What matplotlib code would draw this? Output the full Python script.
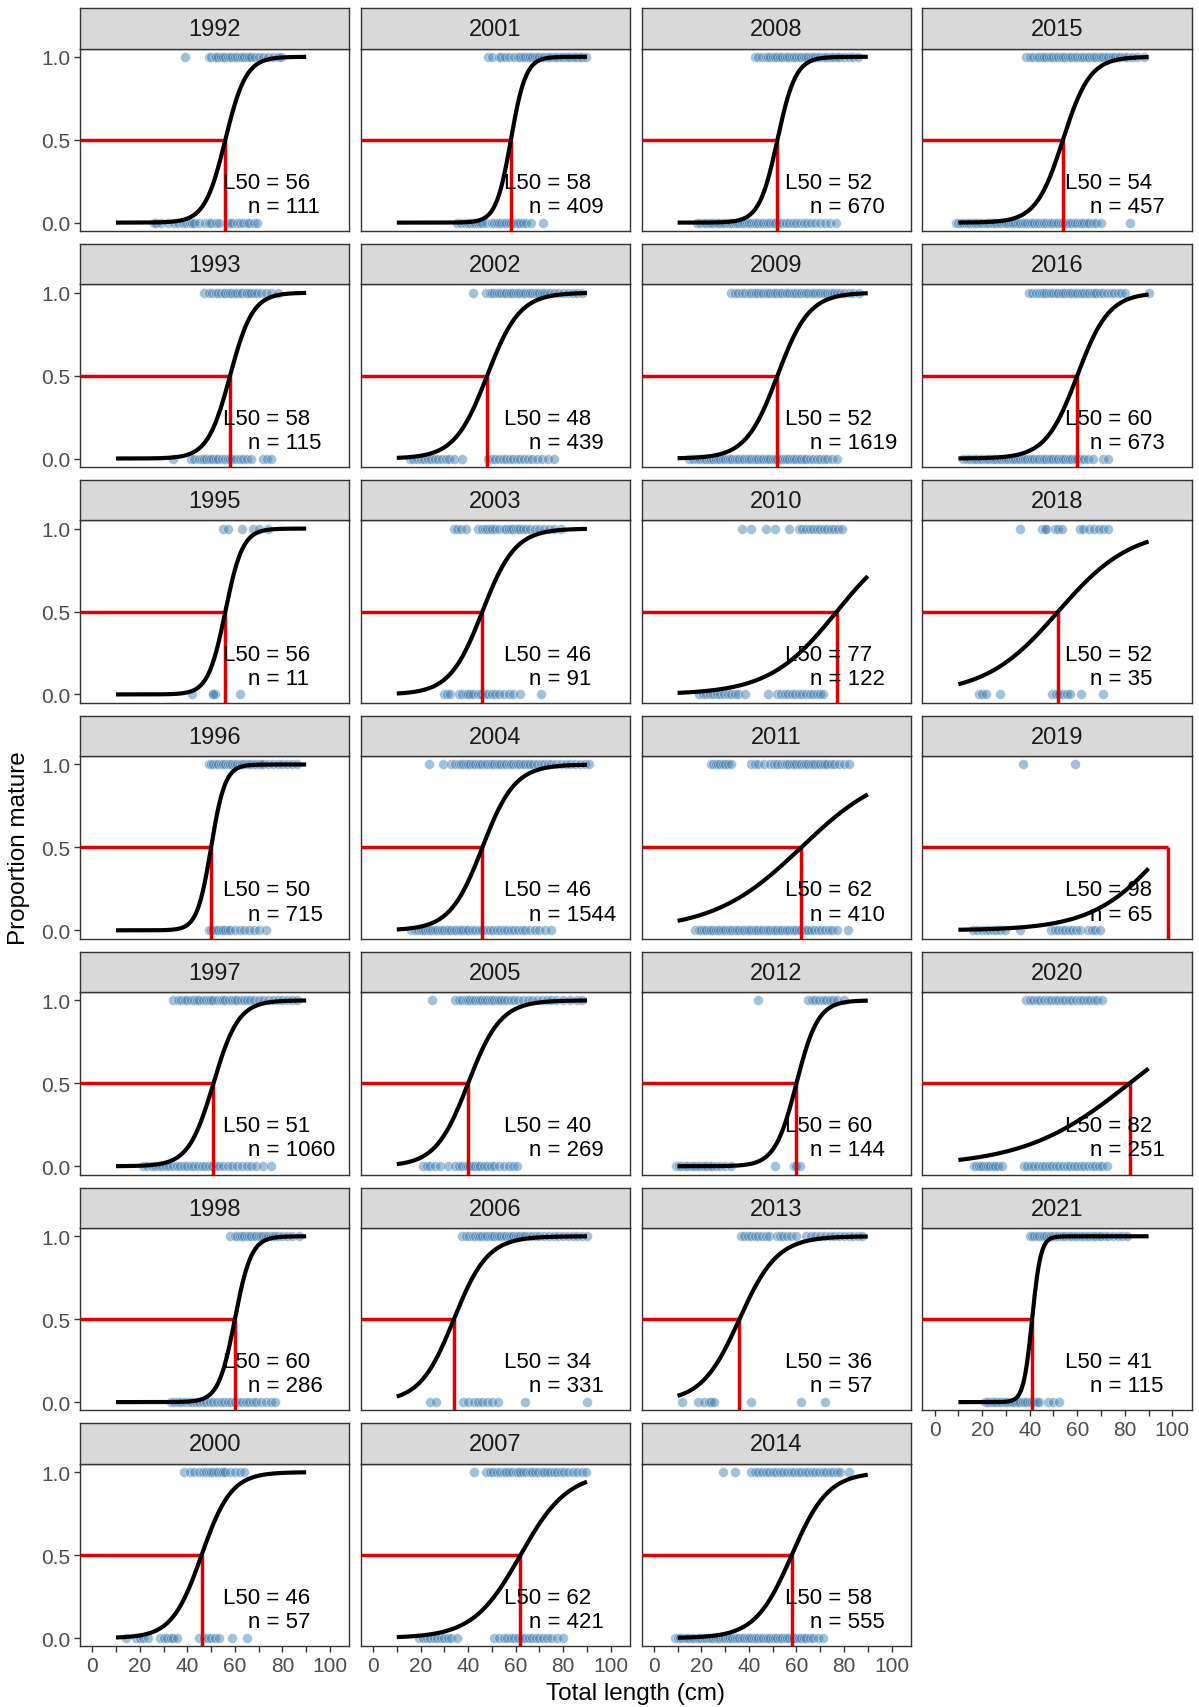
import numpy as np
import matplotlib
matplotlib.use("Agg")
import matplotlib.pyplot as plt

plt.rcParams["font.family"] = ["Liberation Sans", "DejaVu Sans"]

# panel order follows the facet columns (top to bottom, left to right)
years = [1992, 1993, 1995, 1996, 1997, 1998, 2000,
         2001, 2002, 2003, 2004, 2005, 2006, 2007,
         2008, 2009, 2010, 2011, 2012, 2013, 2014,
         2015, 2016, 2018, 2019, 2020, 2021]
l50 = [56, 58, 56, 50, 51, 60, 46,
       58, 48, 46, 46, 40, 34, 62,
       52, 52, 77, 62, 60, 36, 58,
       54, 60, 52, 98, 82, 41]
n_fish = [111, 115, 11, 715, 1060, 286, 57,
          409, 439, 91, 1544, 269, 331, 421,
          670, 1619, 122, 410, 144, 57, 555,
          457, 673, 35, 65, 251, 115]
# logistic slope of the fitted maturity ogive
slope = [0.23, 0.21, 0.275, 0.34, 0.19, 0.29, 0.16,
         0.32, 0.146, 0.145, 0.146, 0.146, 0.14, 0.10,
         0.26, 0.15, 0.07, 0.054, 0.22, 0.125, 0.13,
         0.176, 0.15, 0.065, 0.065, 0.045, 0.55]

# observed lengths of mature (y = 1) and immature (y = 0) fish
mat_1992 = [39, 49, 50, 51.5, 52, 53, 54, 55, 56, 57, 58, 59, 60, 61, 62, 63, 64, 65, 66, 67, 68.5, 70, 72, 74, 76, 78, 79.5]
imm_1992 = [26, 27, 29, 32, 34.5, 36, 38, 39.5, 41, 42, 43, 45, 47.5, 49, 50, 52, 53.5, 57, 58, 59, 61, 62, 63.5, 65, 66, 68, 69.5]
mat_1993 = [47, 49, 50.5, 52, 53, 54, 55.5, 56, 57, 58, 59, 60, 61, 62, 63, 64.5, 65, 66, 67, 68, 69.5, 71, 73, 75, 78]
imm_1993 = [34, 41.5, 43, 45, 46, 47, 48, 49, 50, 51, 52, 53, 54.5, 56, 57, 58, 59, 60.5, 62, 63.5, 65, 67, 72, 73.5, 75]
mat_1995 = [55, 57, 63, 67.5, 70, 74]
imm_1995 = [42, 51, 51.5, 51, 62]
mat_1996 = [49, 50, 51, 52, 53, 54, 55, 56, 57, 58, 59, 60, 61, 62, 63, 64, 65, 66, 67, 68, 69, 70, 71, 72, 74, 76, 78, 80, 82, 84, 86]
imm_1996 = [49, 50, 51, 52, 53, 54, 55, 56, 57, 58, 60, 62, 64, 66, 68, 70, 73]
mat_1997 = [34, 36, 37.5, 39, 40, 41.5, 43, 44, 45, 46.5, 48, 49, 50, 51, 52.5, 54, 55, 56, 57.5, 59, 60, 61, 62.5, 64, 65, 66.5, 68, 70, 72, 74, 76, 78, 80, 82, 84, 86]
imm_1997 = [21.5, 23, 25, 26.5, 28, 29.5, 31, 32.5, 34, 35.5, 37, 38.5, 40, 41.5, 43, 44.5, 46, 47.5, 49, 50.5, 52, 53.5, 55, 57, 59, 61, 63, 65, 67, 69, 72, 75]
mat_1998 = [58, 60, 61, 62, 63, 64, 65, 66, 67, 68, 69, 70, 71, 72, 73, 74, 75, 76, 77, 78, 80, 82, 84, 87]
imm_1998 = [33, 34.5, 36, 37.5, 39, 40.5, 42, 43.5, 45, 46.5, 48, 49.5, 51, 52.5, 54, 55.5, 57, 58.5, 60, 61.5, 63, 64.5, 66, 67.5, 69, 71, 73, 75, 77]
mat_2000 = [38.5, 41, 43, 45, 46.5, 48, 49, 50, 51, 52, 53, 54, 55, 56, 58, 60, 62, 64]
imm_2000 = [14, 18.5, 20, 21.5, 23.5, 28.5, 30, 31.5, 33, 34, 35.5, 45, 47, 48.5, 50, 51.5, 53.5, 59, 65]
mat_2001 = [48.5, 50, 53, 54, 55.5, 57, 59.5, 61, 62, 63, 64, 65, 66, 67, 68, 69, 70, 71, 72, 73, 74, 75, 76, 77, 78, 79, 80, 81, 82, 83, 84, 85, 86, 87, 88, 89.5]
imm_2001 = [35.5, 37, 38.5, 40, 41, 42, 43, 44, 45, 46, 47.5, 50, 51, 52, 53, 54, 55, 56, 57, 58, 59, 60, 61, 62, 63, 64.5, 66.5, 71.5]
mat_2002 = [42, 47.5, 49, 50, 51, 52, 53, 54, 55, 56, 57, 58, 59, 60, 61, 62, 63, 64, 65, 66, 67, 68, 69, 70, 71, 72, 73, 74.5, 76, 78, 80, 82, 84, 86, 88]
imm_2002 = [15.5, 17, 18.5, 20, 21.5, 23, 24.5, 26, 27.5, 29, 30.5, 32, 34, 37.5, 48.5, 50, 51.5, 53, 54.5, 56, 57.5, 59, 60.5, 62, 63.5, 65, 67, 69, 71, 73.5, 76]
mat_2003 = [34, 35.5, 37, 39, 44, 46, 47, 48, 49, 50, 51.5, 53, 55, 56, 57, 58, 59, 60, 61, 62, 63, 64.5, 66, 68, 70, 72, 74, 76, 79]
imm_2003 = [30, 31, 32.5, 36, 37.5, 39, 40, 41, 42, 44, 45.5, 47, 48.5, 50, 51.5, 53, 55, 57, 59, 62, 70.5]
mat_2004 = [23.5, 29.5, 33, 34.5, 36, 37, 38, 39, 40, 41, 42, 43, 44, 45, 46, 47, 48, 49, 50, 51, 52, 53, 54, 55, 56, 57, 58, 59, 60, 61, 62, 63, 64, 65, 66, 67.5, 69, 70.5, 72, 73.5, 75, 77, 79, 81, 83, 85, 87, 89, 91]
imm_2004 = [16, 17.5, 19, 20, 21, 22, 23, 24, 25, 26, 27, 28, 29, 30, 31, 32, 33, 34, 35, 36, 37, 38, 39, 40, 41.5, 43, 44.5, 46, 47.5, 49, 50.5, 52, 53.5, 55, 56.5, 58, 59.5, 61, 62.5, 64, 66, 68, 70, 72.5, 75]
mat_2005 = [25, 34.5, 36, 37.5, 39, 40, 41, 42, 43, 44, 45, 46, 47, 48, 49, 50, 51, 52, 53, 54, 55, 56.5, 58, 59.5, 61, 63, 65, 67, 69, 71, 73, 75, 77, 80, 83, 86, 88]
imm_2005 = [21, 22.5, 24, 26, 28, 31.5, 34.5, 36, 37.5, 39, 40, 41, 42, 43, 44, 45, 46.5, 48, 49.5, 51, 53, 55, 57, 59, 60.5]
mat_2006 = [37.5, 39, 40.5, 42, 43, 44, 45, 46, 47, 48, 49, 50, 51, 52, 53, 54, 55, 56, 57, 58, 59, 60, 61, 62, 63, 64, 65.5, 67, 68.5, 70, 72, 74, 76, 78, 80, 82, 84, 86, 88, 90]
imm_2006 = [24, 26.5, 38, 40, 42.5, 44, 46, 48, 50, 52.5, 64, 90]
mat_2007 = [42.5, 47.5, 49, 50.5, 52, 53.5, 55, 56, 57, 58.5, 60, 61, 62, 63, 64.5, 66, 67, 68, 69.5, 71, 72, 73, 74.5, 76, 77.5, 79, 80.5, 82, 84, 86, 88, 89.5]
imm_2007 = [19.5, 21, 22.5, 24, 25.5, 27, 28.5, 30, 31.5, 33, 35.5, 51, 53, 55, 56.5, 58, 59.5, 61, 62.5, 64, 65.5, 67, 68.5, 70, 71.5, 73, 75, 77.5, 80]
mat_2008 = [42.5, 44, 45.5, 47, 48, 49, 50, 51, 52, 53, 54, 55, 56, 57, 58, 59, 60, 61, 62, 63, 64, 65, 66, 67, 68, 69, 70, 71, 72, 73, 74, 75, 76, 77, 78, 80, 82, 84, 86]
imm_2008 = [18, 19.5, 21, 22, 23, 24, 25, 26, 27, 28, 29, 30, 31, 32, 33, 34, 35, 36, 37, 38, 39, 40, 41, 42, 43, 44, 45, 46, 47, 48, 49, 50, 51, 52.5, 54, 55.5, 57, 58.5, 60, 61.5, 63, 64.5, 66, 68, 70, 72, 74, 76.5]
mat_2009 = [32.5, 34, 35.5, 37, 38.5, 40, 41, 42, 43, 44, 45, 46, 47, 48, 49, 50, 51, 52, 53, 54, 55, 56, 57, 58, 59, 60, 61, 62, 63, 64, 65, 66, 67, 68, 69, 70, 71, 72, 73, 74, 75, 76, 77, 78.5, 80, 82, 84, 86.5]
imm_2009 = [15, 16.5, 18, 19.5, 21, 22, 23, 24, 25, 26, 27, 28, 29, 30, 31, 32, 33, 34, 35, 36, 37, 38, 39, 40, 41, 42, 43, 44, 45, 46, 47, 48, 49, 50, 51, 52, 53, 54, 55, 56, 57, 58, 59, 60, 61, 62, 63, 64, 65.5, 67, 68.5, 70, 71.5, 73, 75, 77]
mat_2010 = [37, 41, 47, 51, 57, 61, 62.5, 64, 65.5, 67, 68.5, 70, 71.5, 73, 74.5, 76, 77.5, 79]
imm_2010 = [19, 20.5, 22, 23.5, 25, 26.5, 28, 29.5, 31, 32.5, 34, 35.5, 38.5, 48, 52, 53.5, 55, 56.5, 58, 59.5, 61, 62.5, 64, 65.5, 67, 68.5, 70, 71]
mat_2011 = [24, 25, 26, 27, 28, 29, 30, 31, 32.5, 41, 42.5, 44, 46.5, 49, 50.5, 52, 53.5, 55, 56, 57, 58, 59, 60, 61, 62, 63, 64, 65, 66, 67, 68, 69, 70, 71, 72, 73, 74.5, 76, 78, 80, 82]
imm_2011 = [17.5, 19, 20, 21, 22, 23, 24, 25, 26, 27, 28, 29, 30, 31, 32, 33, 34, 35, 36, 37, 38, 39, 40, 41, 42, 43, 44, 45, 46, 47, 48, 49, 50, 51, 52, 53, 54, 55, 56, 57, 58, 59, 60, 61, 62, 63, 64, 65, 66, 67.5, 69, 70.5, 72, 73.5, 75, 77, 81.5]
mat_2012 = [44, 65, 66.5, 68, 69.5, 71, 72.5, 74, 75.5, 77, 80]
imm_2012 = [9.5, 10.5, 11.5, 12.5, 13.5, 14.5, 15.5, 16.5, 17.5, 18.5, 19.5, 20.5, 21.5, 22.5, 23.5, 24.5, 26, 28, 30, 32.5, 51, 59, 60, 61.5]
mat_2013 = [36.5, 38, 39.5, 41, 42.5, 44, 45.5, 47, 48.5, 52, 53, 54.5, 56, 57.5, 60, 64, 66, 68, 70, 72, 74, 76, 78, 80, 82, 84, 86, 87.5]
imm_2013 = [12, 18.5, 21, 23, 24, 25.5, 41, 62, 72]
mat_2014 = [29, 34, 41, 42.5, 44, 45.5, 47, 48.5, 50, 51.5, 53, 54.5, 56, 57.5, 59, 60.5, 62, 63.5, 65, 66.5, 68, 69.5, 71, 72.5, 74, 75.5, 77, 78.5, 82]
imm_2014 = [9, 10, 11, 12, 13, 14, 15, 16, 17, 18, 19, 20, 21, 22, 23, 24, 25, 26, 27, 28, 29, 30, 31, 32, 33, 34, 35, 36, 37, 38, 39, 40, 41, 42, 43, 44, 45, 46, 47, 48, 49, 50, 51, 52, 53, 54, 55, 56, 57, 58, 59, 60, 61, 62, 63, 64, 65.5, 67, 69, 71]
mat_2015 = [38.5, 40, 41.5, 43, 44, 45, 46, 47, 48, 49, 50, 51, 52, 53, 54, 55, 56, 57, 58, 59, 60, 61, 62, 63, 64, 65, 66, 67, 68, 69, 70, 71, 72, 73, 74, 75, 76, 77, 78, 79.5, 81, 83, 85, 88]
imm_2015 = [9, 10, 11, 12, 13, 14, 15, 16, 17, 18, 19, 20, 21, 22, 23, 24, 25, 26, 27, 28, 29, 30, 31, 32, 33, 34, 35, 36, 37, 38, 39, 40, 41, 42, 43, 44, 45, 46, 47, 48, 49, 50, 51, 52, 53, 54, 55, 56, 57, 58, 59, 60, 61, 62, 63, 64, 65, 66.5, 68, 70, 82]
mat_2016 = [39.5, 41, 42.5, 44, 45, 46, 47, 48, 49, 50, 51, 52, 53, 54, 55, 56, 57, 58, 59, 60, 61, 62, 63, 64, 65, 66, 67, 68, 69.5, 71, 72.5, 74, 75.5, 77, 78.5, 80, 90]
imm_2016 = [12, 13.5, 15, 16, 17, 18, 19, 20, 21, 22, 23, 24, 25, 26, 27, 28, 29, 30, 31, 32, 33, 34, 35, 36, 37, 38, 39, 40, 41, 42, 43, 44, 45, 46, 47, 48, 49, 50, 51, 52, 53, 54, 55, 56, 57, 58, 59, 60, 61.5, 63, 64.5, 66.5, 71, 73]
mat_2018 = [36, 45, 46.5, 47, 50.5, 52, 53.5, 61, 62.5, 65, 67, 69, 71, 73]
imm_2018 = [18.5, 20, 21.5, 27.5, 49.5, 51, 52.5, 54, 55.5, 57, 61.5, 71]
mat_2019 = [37, 59]
imm_2019 = [16, 18, 20, 21.5, 23, 24.5, 26, 27.5, 29.5, 36, 49, 50.5, 52, 53.5, 55, 56.5, 58, 59.5, 61, 64.5, 66, 67.5, 69.5]
mat_2020 = [38.5, 40, 41.5, 43, 44.5, 46, 47.5, 49, 50.5, 52, 53.5, 55, 56.5, 58, 59.5, 61, 62.5, 64, 65.5, 67, 68.5, 70.5]
imm_2020 = [16.5, 17.5, 18.5, 19.5, 20.5, 21.5, 22.5, 23.5, 24.5, 25.5, 26.5, 28.5, 37.5, 39, 40.5, 42, 43.5, 45, 46.5, 48, 49.5, 51, 52.5, 54, 55.5, 57, 58.5, 60, 61.5, 63, 64.5, 66, 67.5, 69, 70.5, 72.5]
mat_2021 = [40, 41, 42, 43, 44, 45, 46, 47, 48, 49, 50, 51, 52, 53, 54, 55, 56, 57, 58, 59, 60, 61, 62, 63, 64, 65, 66, 67, 68, 69, 70, 71.5, 73, 75, 77, 79, 81]
imm_2021 = [21, 22, 23, 24, 25, 26, 27, 28, 29, 30, 31, 32, 33, 34, 35, 36, 37, 38, 39, 40, 41, 42, 43, 44, 47.5, 50, 52.5]

mature = {yr: globals()[f"mat_{yr}"] for yr in years}
immature = {yr: globals()[f"imm_{yr}"] for yr in years}

# layout (pixels)
W, H = 1199, 1708
PANEL_L, PANEL_W, COL_STEP = 80, 269.3, 280.8
ROW0, STRIP_H, PANEL_H, ROW_STEP = 9, 40.5, 182.4, 235.9
XLIM = (-5.15, 108.15)
YLIM = (-0.05, 1.05)
BORDER = "#333333"
RED = "#E00000"

fig = plt.figure(figsize=(W / 100, H / 100), dpi=100)

columns = [years[0:7], years[7:14], years[14:21], years[21:27]]
x_fit = np.linspace(10, 90, 200)

for c, col_years in enumerate(columns):
    for r, yr in enumerate(col_years):
        i = years.index(yr)
        left = PANEL_L + c * COL_STEP
        strip_top = ROW0 + r * ROW_STEP
        panel_top = strip_top + STRIP_H

        ax = fig.add_axes([left / W, 1 - (panel_top + PANEL_H) / H, PANEL_W / W, PANEL_H / H])
        sax = fig.add_axes([left / W, 1 - panel_top / H, PANEL_W / W, STRIP_H / H])

        # strip
        sax.set_facecolor("#D9D9D9")
        sax.set_xticks([])
        sax.set_yticks([])
        for sp in sax.spines.values():
            sp.set_color(BORDER)
            sp.set_linewidth(1.0)
        sax.text(0.5, 0.48, str(yr), transform=sax.transAxes, ha="center", va="center",
                 fontsize=17, color="#1A1A1A")

        ax.set_xlim(*XLIM)
        ax.set_ylim(*YLIM)

        # observations
        xm = mature[yr]
        xi = immature[yr]
        ax.scatter(xm, np.ones(len(xm)), s=50, color="steelblue", alpha=0.5,
                   edgecolors="white", linewidths=0.5, zorder=2)
        ax.scatter(xi, np.zeros(len(xi)), s=50, color="steelblue", alpha=0.5,
                   edgecolors="white", linewidths=0.5, zorder=2)

        # L50 guide lines
        L = l50[i]
        ax.plot([XLIM[0], L], [0.5, 0.5], color=RED, lw=2.5,
                solid_capstyle="butt", zorder=3)
        ax.plot([L, L], [YLIM[0], 0.5], color=RED, lw=2.5,
                solid_capstyle="butt", zorder=3)

        # fitted ogive
        p_fit = 1 / (1 + np.exp(-slope[i] * (x_fit - L)))
        ax.plot(x_fit, p_fit, color="black", lw=3.0, solid_capstyle="butt", zorder=4)

        ax.text(55, 0.21, f"L50 = {L}", ha="left", va="baseline", fontsize=16,
                color="black", zorder=5)
        ax.text(65.5, 0.065, f"n = {n_fish[i]}", ha="left", va="baseline", fontsize=16,
                color="black", zorder=5)

        for sp in ax.spines.values():
            sp.set_color(BORDER)
            sp.set_linewidth(1.0)

        ax.tick_params(length=4.5, width=1.0, color=BORDER, labelcolor="#4D4D4D",
                       labelsize=15, pad=2.5)

        ax.set_xticks(range(0, 101, 10))
        if r == len(col_years) - 1:
            ax.set_xticklabels([str(v) if v % 20 == 0 else "" for v in range(0, 101, 10)])
        else:
            ax.tick_params(axis="x", bottom=False, labelbottom=False)

        ax.set_yticks([0, 0.5, 1])
        if c == 0:
            ax.set_yticklabels(["0.0", "0.5", "1.0"])
        else:
            ax.tick_params(axis="y", left=False, labelleft=False)

fig.text(19 / W, 1 - 848 / H, "Proportion mature", rotation=90, ha="center", va="center",
         fontsize=17.5, color="black")
fig.text(636 / W, 1 - 1694 / H, "Total length (cm)", ha="center", va="center",
         fontsize=17.5, color="black")

fig.savefig("out.png", dpi=100, facecolor="white")
